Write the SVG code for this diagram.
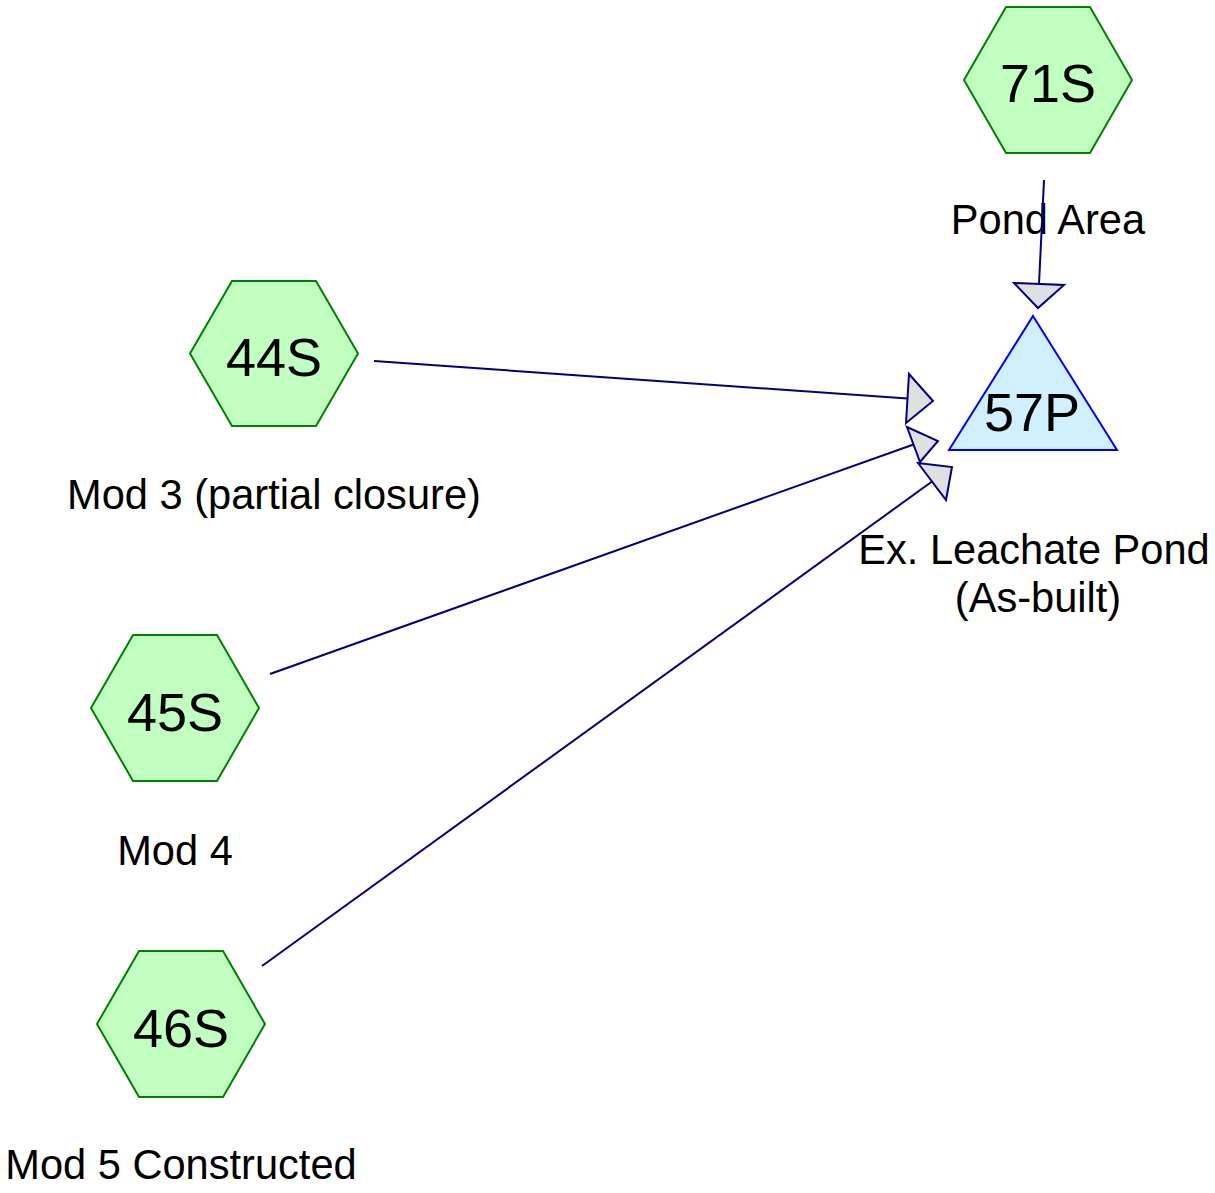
<svg xmlns="http://www.w3.org/2000/svg" width="1215" height="1193" viewBox="0 0 1215 1193">
<style>
.hex{fill:#c0ffc0;stroke:#008000;stroke-width:2}
.pond{fill:#d0f0ff;stroke:#0000ff;stroke-width:2}
.lnk{stroke:#000080;stroke-width:2;fill:none}
.ah{fill:#e0e0e0;stroke:#000080;stroke-width:2;stroke-linejoin:miter}
.id{font-family:"Liberation Sans",Arial,sans-serif;font-size:54px;fill:#000;text-anchor:middle}
.lbl{font-family:"Liberation Sans",Arial,sans-serif;font-size:41.6px;fill:#000;text-anchor:middle}
</style>
<rect width="1215" height="1193" fill="#fff"/>
<g id="n71S">
<polygon class="hex" points="964,80 1006,7 1090,7 1132,80 1090,153 1006,153"/>
<text class="id" x="1048" y="102">71S</text>
<text class="lbl" x="1048" y="234">Pond Area</text>
</g>
<g id="n44S">
<polygon class="hex" points="190,353.5 232,281 316,281 358,353.5 316,426 232,426"/>
<text class="id" x="274" y="376">44S</text>
<text class="lbl" x="274" y="509">Mod 3 (partial closure)</text>
</g>
<g id="n45S">
<polygon class="hex" points="91,708 133,635 217,635 259,708 217,781 133,781"/>
<text class="id" x="175" y="731">45S</text>
<text class="lbl" x="175" y="865">Mod 4</text>
</g>
<g id="n46S">
<polygon class="hex" points="97,1024 139,951 223,951 265,1024 223,1097 139,1097"/>
<text class="id" x="181" y="1047">46S</text>
<text class="lbl" x="181" y="1179">Mod 5 Constructed</text>
</g>
<g id="n57P">
<polygon class="pond" points="1033,316 1117,450 949,450"/>
<text class="id" x="1032" y="431">57P</text>
<text class="lbl" x="1034" y="564">Ex. Leachate Pond</text>
<text class="lbl" x="1038" y="612">(As-built)</text>
</g>
<g id="connectors">
<line class="lnk" x1="1044" y1="180" x2="1039" y2="284"/>
<polygon class="ah" points="1014,283 1064,285 1038,308"/>
<line class="lnk" x1="374" y1="361" x2="907.5" y2="398.5"/>
<polygon class="ah" points="909,374 906,423 933,401"/>
<line class="lnk" x1="270" y1="674" x2="913.5" y2="444.5"/>
<polygon class="ah" points="907,427 920,462 938,441"/>
<line class="lnk" x1="262" y1="966" x2="932" y2="481.5"/>
<polygon class="ah" points="918,463 946,500 952,467"/>
</g>
</svg>
